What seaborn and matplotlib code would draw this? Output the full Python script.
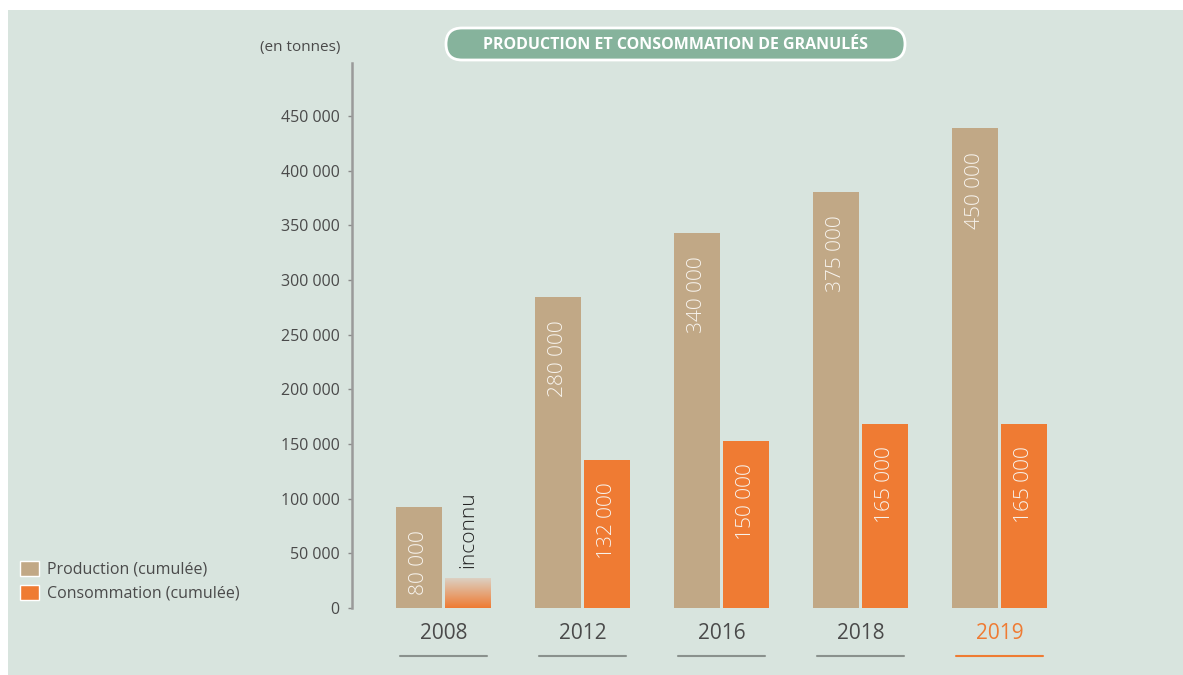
import numpy as np
import pandas as pd
import matplotlib.pyplot as plt
import matplotlib.transforms as mtransforms
from matplotlib.patches import Rectangle, FancyBboxPatch, Patch
import seaborn as sns

# Données (hauteurs des barres telles que dessinées)
annees = ["2008", "2012", "2016", "2018", "2019"]
production = [92400, 284500, 343000, 380500, 439000]
consommation = [np.nan, 135400, 152700, 168300, 168300]
hauteur_inconnu = 27400  # barre en dégradé pour 2008
etiquettes_production = ["80 000", "280 000", "340 000", "375 000", "450 000"]
etiquettes_consommation = ["inconnu", "132 000", "150 000", "165 000", "165 000"]
graduations = [0, 50000, 100000, 150000, 200000, 250000, 300000, 350000, 400000, 450000]
series = ["Production (cumulée)", "Consommation (cumulée)"]

# Couleurs
FOND = "#d8e4de"
BEIGE = "#c1a886"
ORANGE = "#ef7b33"
GRIS_TEXTE = "#4a4a4a"
VERT_TITRE = "#86b39c"

sns.set_theme(style="white")
plt.rcParams['font.family'] = ['Open Sans', 'DejaVu Sans']

df = pd.DataFrame({
    "annee": annees * 2,
    "valeur": production + consommation,
    "serie": [series[0]] * len(annees) + [series[1]] * len(annees),
})

W, H = 1183, 675
fig = plt.figure(figsize=(W / 100, H / 100), dpi=100, facecolor="white")

# Fond vert clair (bordure blanche à gauche et en haut)
fig.add_artist(Rectangle((8 / W, 0), (W - 8) / W, (H - 10) / H, transform=fig.transFigure,
                         facecolor=FOND, edgecolor="none", zorder=-1))

ax = fig.add_axes([352 / W, 67 / H, (W - 352) / W, 545 / H])
ax.set_facecolor("none")

sns.barplot(data=df, x="annee", y="valeur", hue="serie", order=annees, hue_order=series,
            palette={series[0]: BEIGE, series[1]: ORANGE}, width=0.7, gap=0.06,
            saturation=1, legend=False, linewidth=0, edgecolor="none", ax=ax)

largeur = 0.35 * (1 - 0.06)
decalage = 0.175

# Barre "inconnu" en dégradé
dep = np.array([int(ORANGE[k:k + 2], 16) for k in (1, 3, 5)]) / 255
arr = np.array([int("dcd0c2"[k:k + 2], 16) for k in (0, 2, 4)]) / 255
t = np.linspace(0, 1, 64)[:, None]
degrade = (dep * (1 - t) + arr * t)[:, None, :]
ax.imshow(degrade, extent=[decalage - largeur / 2, decalage + largeur / 2, 0, hauteur_inconnu],
          origin="lower", aspect="auto", zorder=2)

# Etiquettes dans les barres
for i in range(len(annees)):
    ax.annotate(etiquettes_production[i], xy=(i - decalage, production[i]), xytext=(0, -17),
                textcoords="offset points", rotation=90, ha="center", va="top",
                color="#f8f4ee", fontsize=15, fontweight="light")
    if np.isnan(consommation[i]):
        ax.annotate(etiquettes_consommation[i], xy=(i + decalage, hauteur_inconnu), xytext=(0, 7),
                    textcoords="offset points", rotation=90, ha="center", va="bottom",
                    color="#222222", fontsize=15, fontweight="light")
    else:
        ax.annotate(etiquettes_consommation[i], xy=(i + decalage, consommation[i]), xytext=(0, -16),
                    textcoords="offset points", rotation=90, ha="center", va="top",
                    color="#f8f4ee", fontsize=15, fontweight="light")

ax.set_xlim(-0.658, 5.32)
ax.set_ylim(0, 498500)

# Axes
for cote in ["top", "right", "bottom"]:
    ax.spines[cote].set_visible(False)
ax.spines["left"].set_color("#9a9a9a")
ax.spines["left"].set_linewidth(1.8)

ax.set_yticks(graduations)
ax.set_yticklabels([f"{v:,}".replace(",", " ") for v in graduations])
ax.tick_params(axis="y", left=True, length=3, width=1, color="#8a8a8a", pad=6,
               labelsize=11.5, labelcolor=GRIS_TEXTE)
ax.tick_params(axis="x", length=0, pad=11, labelsize=15, labelcolor=GRIS_TEXTE)
ax.get_xticklabels()[-1].set_color(ORANGE)
ax.set_xlabel("")
ax.set_ylabel("")

# Soulignement des années
trans = mtransforms.blended_transform_factory(ax.transData, ax.transAxes)
for i in range(len(annees)):
    couleur = ORANGE if i == len(annees) - 1 else "#8a918d"
    ax.plot([i - 0.315, i + 0.315], [-0.088, -0.088], transform=trans, clip_on=False,
            color=couleur, lw=1.5)

# Unité
fig.text(340 / W, 1 - 48 / H, "(en tonnes)", ha="right", va="center", fontsize=11,
         color=GRIS_TEXTE)

# Titre dans une pastille arrondie
pastille = FancyBboxPatch((446, H - 60), 459, 32, boxstyle="round,pad=0,rounding_size=16",
                          transform=mtransforms.IdentityTransform(), facecolor=VERT_TITRE,
                          edgecolor="white", linewidth=2, zorder=2)
fig.add_artist(pastille)
fig.text(675.5 / W, 1 - 45 / H, "PRODUCTION ET CONSOMMATION DE GRANULÉS", ha="center",
         va="center", fontsize=11.5, fontweight="bold", color="white", zorder=3)

# Légende
poignees = [Patch(facecolor=BEIGE, label=series[0]), Patch(facecolor=ORANGE, label=series[1])]
fig.legend(handles=poignees, loc="upper left", bbox_to_anchor=(20 / W, 1 - 561 / H),
           frameon=False, fontsize=11.5, handlelength=1.2, handleheight=1.05,
           handletextpad=0.5, labelspacing=0.45, borderpad=0, borderaxespad=0,
           labelcolor=GRIS_TEXTE)

fig.savefig("out.png", dpi=100, facecolor="white")
